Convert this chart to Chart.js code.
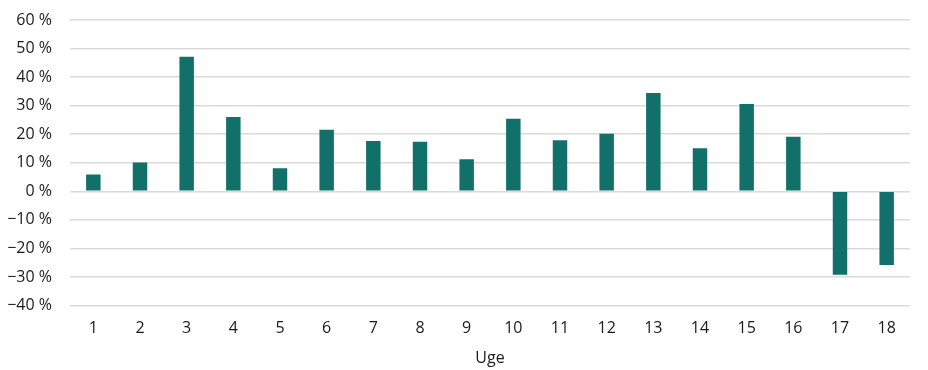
<!DOCTYPE html>
<html>
<head>
<meta charset="utf-8">
<script src="https://cdn.jsdelivr.net/npm/chart.js@4/dist/chart.umd.min.js"></script>
<style>
  html, body { margin: 0; padding: 0; background: #fff; }
  #wrap { width: 928px; height: 370px; }
</style>
</head>
<body>
<div id="wrap"><canvas id="chart"></canvas></div>
<script>
// Weekly change in percent
const weeks = ["1", "2", "3", "4", "5", "6", "7", "8", "9", "10", "11", "12", "13", "14", "15", "16", "17", "18"];
const changes = [5.9, 10.1, 47.1, 26.0, 8.1, 21.6, 17.6, 17.4, 11.2, 25.4, 17.9, 20.2, 34.4, 15.1, 30.6, 19.1, -29.2, -25.8];
const yTicks = [-40, -30, -20, -10, 0, 10, 20, 30, 40, 50, 60];

const font = { family: "Open Sans", size: 16 };

const ctx = document.getElementById("chart").getContext("2d");
const chart = new Chart(ctx, {
  type: "bar",
  data: {
    labels: weeks,
    datasets: [{
      data: changes,
      backgroundColor: "#12706a",
      borderWidth: 0,
      barPercentage: 0.62,
      categoryPercentage: 0.5
    }]
  },
  options: {
    responsive: true,
    maintainAspectRatio: false,
    animation: false,
    layout: { padding: { top: 0, right: 18, bottom: 2, left: 0 } },
    plugins: {
      legend: { display: false },
      tooltip: { enabled: false }
    },
    scales: {
      x: {
        grid: { display: false, drawTicks: false },
        border: { display: false },
        ticks: { color: "#1a1a1a", font: font, padding: 13 },
        title: {
          display: true,
          text: "Uge",
          color: "#1a1a1a",
          font: font,
          padding: { top: -2, bottom: 0 }
        }
      },
      y: {
        min: -40,
        max: 60,
        afterBuildTicks: (axis) => { axis.ticks = yTicks.map(v => ({ value: v })); },
        afterFit: (axis) => {
          axis.width = 70;
          axis.paddingTop = 20;
          axis.paddingBottom = 0;
        },
        grid: { color: "#dadada", lineWidth: 1.5, drawTicks: false },
        border: { display: false },
        ticks: {
          color: "#1a1a1a",
          font: font,
          padding: 18,
          callback: (v) => (v < 0 ? "\u2212" + Math.abs(v) : v) + " %"
        }
      }
    }
  }
});
</script>
</body>
</html>
